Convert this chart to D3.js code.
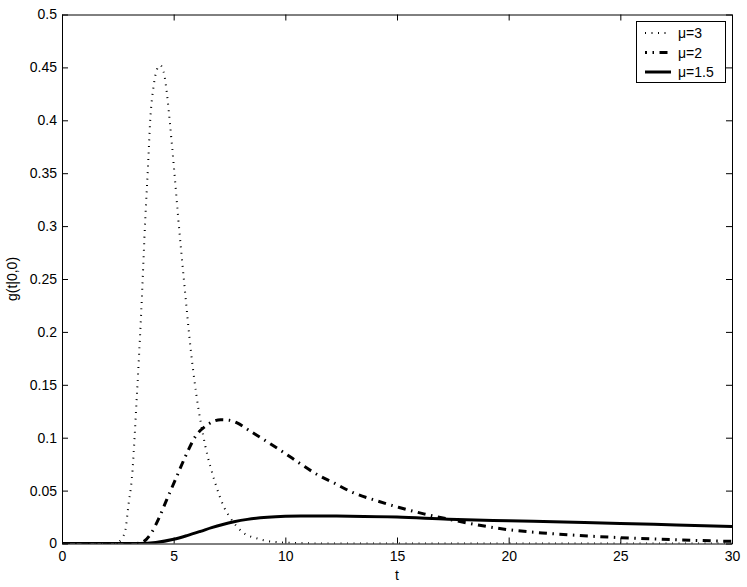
<!DOCTYPE html>
<html>
<head>
<meta charset="utf-8">
<script src="https://cdn.jsdelivr.net/npm/d3@7"></script>
<style>
  html, body { margin: 0; padding: 0; background: #fff; }
  svg { display: block; font-family: "Liberation Sans", Arial, Helvetica, sans-serif; }
</style>
</head>
<body>
<svg id="chart" width="747" height="587"></svg>
<script>
// ---- data ----
const xTicks = [0, 5, 10, 15, 20, 25, 30];
const yTicks = [0, 0.05, 0.1, 0.15, 0.2, 0.25, 0.3, 0.35, 0.4, 0.45, 0.5];
const yTickLabels = ["0", "0.05", "0.1", "0.15", "0.2", "0.25", "0.3", "0.35", "0.4", "0.45", "0.5"];
const seriesNames = ["\u03bc=3", "\u03bc=2", "\u03bc=1.5"];

const tMu3 = [0, 2.4, 2.68, 2.83, 2.98, 3.13, 3.35, 3.55, 3.73, 3.85, 3.95, 4.1, 4.25, 4.4, 4.55, 4.7, 4.82, 5.01, 5.19, 5.5, 5.75, 6.02, 6.42, 6.85, 7.24, 7.54, 8.13, 8.7, 9.3, 10.5, 12, 30];
const gMu3 = [0, 0, 0.005, 0.012, 0.037, 0.062, 0.139, 0.22, 0.307, 0.356, 0.40, 0.432, 0.448, 0.452, 0.446, 0.425, 0.40, 0.356, 0.311, 0.24, 0.186, 0.14, 0.092, 0.058, 0.035, 0.024, 0.010, 0.005, 0.002, 0.0005, 0, 0];

const tMu2 = [0, 3.3, 3.58, 4.0, 4.32, 4.7, 5.07, 5.52, 5.97, 6.5, 7.1, 7.5, 7.84, 8.44, 9.2, 9.93, 10.7, 11.44, 12.2, 12.93, 14, 15.1, 16.2, 17.3, 18.5, 20, 21.5, 23, 25, 27.5, 30];
const gMu2 = [0, 0, 0.001, 0.01, 0.023, 0.042, 0.06, 0.082, 0.101, 0.112, 0.117, 0.1165, 0.114, 0.106, 0.096, 0.086, 0.075, 0.065, 0.057, 0.049, 0.041, 0.034, 0.028, 0.023, 0.018, 0.013, 0.010, 0.0078, 0.0055, 0.0035, 0.002];

const tMu15 = [0, 3.5, 4.2, 5.0, 5.6, 6.2, 6.7, 7.2, 7.7, 8.3, 9.2, 10, 10.7, 11.5, 12.9, 15, 17.3, 20, 22, 25, 27.5, 30];
const gMu15 = [0, 0, 0.001, 0.004, 0.0075, 0.0115, 0.015, 0.018, 0.0205, 0.0228, 0.0248, 0.0257, 0.026, 0.026, 0.0258, 0.025, 0.023, 0.0215, 0.0205, 0.019, 0.0175, 0.016];

// ---- layout ----
const svg = d3.select("#chart");
const mLeft = 62, mRight = 732, mTop = 14.5, mBottom = 543.5;
const x = d3.scaleLinear().domain([0, 30]).range([mLeft, mRight]);
const y = d3.scaleLinear().domain([0, 0.5]).range([mBottom, mTop]);

const styles = [
  { width: 2, dash: "1,5.5" },
  { width: 3, dash: "8,5.5,1.5,5.5" },
  { width: 3, dash: null }
];

const series = [
  d3.zip(tMu3, gMu3),
  d3.zip(tMu2, gMu2),
  d3.zip(tMu15, gMu15)
];

svg.append("clipPath").attr("id", "clip")
  .append("rect").attr("x", mLeft).attr("y", mTop).attr("width", mRight - mLeft).attr("height", mBottom - mTop);

const line = d3.line().x(d => x(d[0])).y(d => y(d[1])).curve(d3.curveMonotoneX);

const gLines = svg.append("g").attr("clip-path", "url(#clip)");
series.forEach((s, i) => {
  gLines.append("path")
    .datum(s)
    .attr("d", line)
    .attr("fill", "none")
    .attr("stroke", "#000")
    .attr("stroke-width", styles[i].width)
    .attr("stroke-dasharray", styles[i].dash)
    .attr("stroke-linecap", "butt")
    .attr("stroke-linejoin", "round");
});

// axes
const fmtY = d => yTickLabels[yTicks.indexOf(d)];
const axBottom = svg.append("g").attr("transform", `translate(0,${mBottom})`)
  .call(d3.axisBottom(x).tickValues(xTicks).tickSizeInner(-6).tickSizeOuter(0).tickPadding(8).tickFormat(d3.format("d")));
const axTop = svg.append("g").attr("transform", `translate(0,${mTop})`)
  .call(d3.axisTop(x).tickValues(xTicks).tickSizeInner(-6).tickSizeOuter(0).tickFormat(""));
const axLeft = svg.append("g").attr("transform", `translate(${mLeft},0)`)
  .call(d3.axisLeft(y).tickValues(yTicks).tickSizeInner(-6).tickSizeOuter(0).tickPadding(5).tickFormat(fmtY));
const axRight = svg.append("g").attr("transform", `translate(${mRight},0)`)
  .call(d3.axisRight(y).tickValues(yTicks).tickSizeInner(-6).tickSizeOuter(0).tickFormat(""));

[axBottom, axTop, axLeft, axRight].forEach(a => {
  a.select(".domain").attr("stroke", "#000").attr("stroke-width", 1);
  a.selectAll(".tick line").attr("stroke", "#000").attr("stroke-width", 1);
  a.selectAll(".tick text").attr("fill", "#000").attr("font-size", 14)
    .attr("font-family", "'Liberation Sans', Arial, sans-serif");
});

// axis labels
svg.append("text")
  .attr("x", (mLeft + mRight) / 2).attr("y", 580)
  .attr("text-anchor", "middle").attr("font-size", 14).text("t");
svg.append("text")
  .attr("transform", `translate(17,${(mTop + mBottom) / 2}) rotate(-90)`)
  .attr("text-anchor", "middle").attr("font-size", 14).text("g(t|0,0)");

// legend
const lg = svg.append("g");
lg.append("rect")
  .attr("x", 636.5).attr("y", 21.5).attr("width", 89).attr("height", 61)
  .attr("fill", "#fff").attr("stroke", "#000").attr("stroke-width", 1);
const rowY = [33, 52.5, 72];
seriesNames.forEach((name, i) => {
  lg.append("line")
    .attr("x1", 645).attr("x2", 671).attr("y1", rowY[i]).attr("y2", rowY[i])
    .attr("stroke", "#000").attr("stroke-width", styles[i].width)
    .attr("stroke-dasharray", styles[i].dash)
    .attr("stroke-dashoffset", i === 1 ? 6 : 0);
  lg.append("text")
    .attr("x", 678).attr("y", rowY[i]).attr("dy", "0.36em")
    .attr("font-size", 14).text(name);
});
</script>
</body>
</html>
